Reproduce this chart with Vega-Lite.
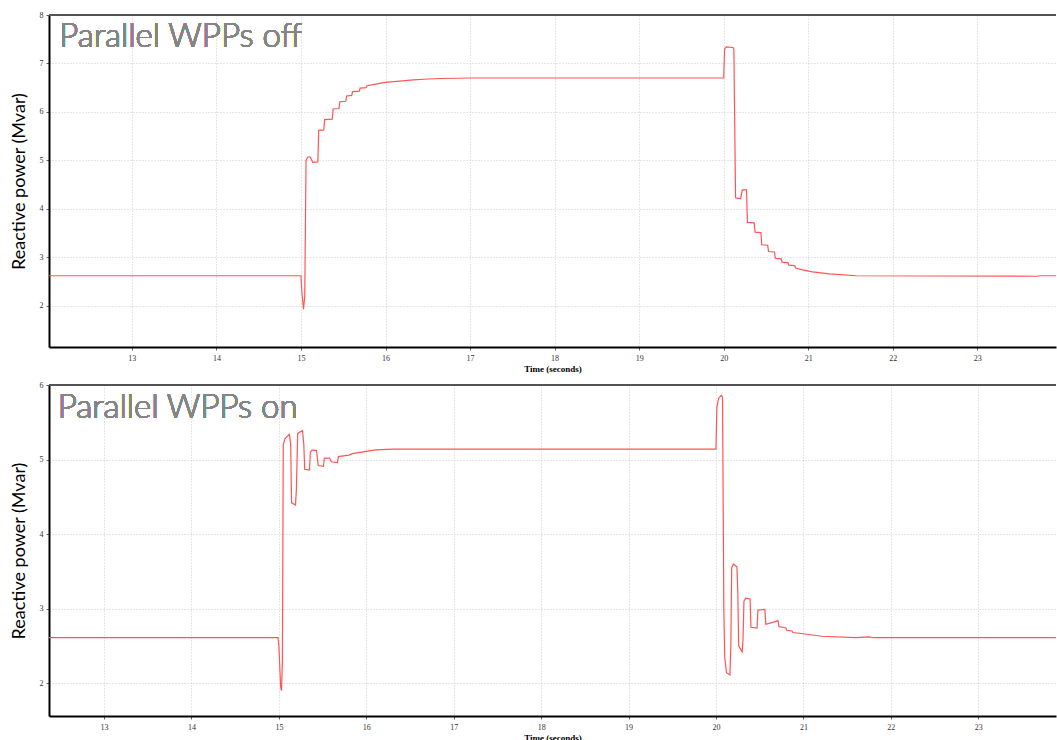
{
  "$schema": "https://vega.github.io/schema/vega-lite/v6.json",
  "padding": {"left": 10, "top": 11, "right": 0, "bottom": 0},
  "background": "white",
  "datasets": {
    "top": [
      {"t": 12.0, "q": 2.62}, {"t": 15.0, "q": 2.62}, {"t": 15.01, "q": 2.3}, {"t": 15.03, "q": 1.93}, {"t": 15.045, "q": 2.2},
      {"t": 15.06, "q": 5.0}, {"t": 15.08, "q": 5.07}, {"t": 15.11, "q": 5.07}, {"t": 15.14, "q": 4.96}, {"t": 15.2, "q": 4.97},
      {"t": 15.21, "q": 5.62}, {"t": 15.27, "q": 5.63}, {"t": 15.28, "q": 5.84}, {"t": 15.37, "q": 5.85}, {"t": 15.38, "q": 6.06},
      {"t": 15.45, "q": 6.07}, {"t": 15.46, "q": 6.21}, {"t": 15.53, "q": 6.22}, {"t": 15.54, "q": 6.33}, {"t": 15.6, "q": 6.34},
      {"t": 15.61, "q": 6.42}, {"t": 15.69, "q": 6.43}, {"t": 15.7, "q": 6.49}, {"t": 15.77, "q": 6.5}, {"t": 15.78, "q": 6.54},
      {"t": 15.9, "q": 6.58}, {"t": 16.0, "q": 6.61}, {"t": 16.2, "q": 6.64}, {"t": 16.33, "q": 6.66}, {"t": 16.5, "q": 6.68},
      {"t": 16.65, "q": 6.69}, {"t": 17.0, "q": 6.7}, {"t": 20.0, "q": 6.7}, {"t": 20.01, "q": 7.3}, {"t": 20.03, "q": 7.34},
      {"t": 20.11, "q": 7.33}, {"t": 20.12, "q": 7.3}, {"t": 20.14, "q": 4.23}, {"t": 20.2, "q": 4.21}, {"t": 20.22, "q": 4.39},
      {"t": 20.27, "q": 4.39}, {"t": 20.28, "q": 3.72}, {"t": 20.36, "q": 3.71}, {"t": 20.37, "q": 3.52}, {"t": 20.44, "q": 3.51},
      {"t": 20.45, "q": 3.26}, {"t": 20.52, "q": 3.25}, {"t": 20.53, "q": 3.12}, {"t": 20.6, "q": 3.11}, {"t": 20.61, "q": 2.98},
      {"t": 20.68, "q": 2.97}, {"t": 20.69, "q": 2.9}, {"t": 20.76, "q": 2.89}, {"t": 20.77, "q": 2.84}, {"t": 20.84, "q": 2.83},
      {"t": 20.85, "q": 2.78}, {"t": 20.93, "q": 2.74}, {"t": 21.05, "q": 2.7}, {"t": 21.25, "q": 2.66}, {"t": 21.57, "q": 2.62},
      {"t": 23.7, "q": 2.61}, {"t": 23.75, "q": 2.62}, {"t": 24.0, "q": 2.62}
    ],
    "bottom": [
      {"t": 12.3, "q": 2.61}, {"t": 14.99, "q": 2.61}, {"t": 15.0, "q": 2.5}, {"t": 15.02, "q": 1.95}, {"t": 15.03, "q": 1.9},
      {"t": 15.04, "q": 2.3}, {"t": 15.05, "q": 5.2}, {"t": 15.07, "q": 5.28}, {"t": 15.12, "q": 5.34}, {"t": 15.135, "q": 5.2},
      {"t": 15.145, "q": 4.42}, {"t": 15.19, "q": 4.39}, {"t": 15.2, "q": 4.6}, {"t": 15.215, "q": 5.35}, {"t": 15.27, "q": 5.39},
      {"t": 15.285, "q": 5.2}, {"t": 15.295, "q": 4.87}, {"t": 15.35, "q": 4.86}, {"t": 15.36, "q": 5.1}, {"t": 15.38, "q": 5.13},
      {"t": 15.43, "q": 5.12}, {"t": 15.45, "q": 4.92}, {"t": 15.51, "q": 4.91}, {"t": 15.52, "q": 5.02}, {"t": 15.58, "q": 5.02},
      {"t": 15.6, "q": 4.97}, {"t": 15.67, "q": 4.96}, {"t": 15.68, "q": 5.04}, {"t": 15.8, "q": 5.06}, {"t": 15.84, "q": 5.08},
      {"t": 16.0, "q": 5.11}, {"t": 16.11, "q": 5.13}, {"t": 16.3, "q": 5.14}, {"t": 20.0, "q": 5.14}, {"t": 20.01, "q": 5.7},
      {"t": 20.03, "q": 5.82}, {"t": 20.06, "q": 5.86}, {"t": 20.075, "q": 5.84}, {"t": 20.09, "q": 3.0}, {"t": 20.1, "q": 2.35},
      {"t": 20.12, "q": 2.14}, {"t": 20.16, "q": 2.11}, {"t": 20.17, "q": 2.5}, {"t": 20.18, "q": 3.55}, {"t": 20.2, "q": 3.6},
      {"t": 20.24, "q": 3.56}, {"t": 20.25, "q": 3.2}, {"t": 20.26, "q": 2.5}, {"t": 20.3, "q": 2.42}, {"t": 20.31, "q": 2.6},
      {"t": 20.32, "q": 3.1}, {"t": 20.34, "q": 3.14}, {"t": 20.39, "q": 3.13}, {"t": 20.4, "q": 2.75}, {"t": 20.47, "q": 2.74},
      {"t": 20.48, "q": 2.98}, {"t": 20.56, "q": 2.99}, {"t": 20.57, "q": 2.79}, {"t": 20.66, "q": 2.82}, {"t": 20.71, "q": 2.84},
      {"t": 20.72, "q": 2.76}, {"t": 20.8, "q": 2.74}, {"t": 20.81, "q": 2.71}, {"t": 20.87, "q": 2.7}, {"t": 20.88, "q": 2.68},
      {"t": 21.02, "q": 2.66}, {"t": 21.21, "q": 2.63}, {"t": 21.6, "q": 2.61}, {"t": 21.75, "q": 2.62}, {"t": 21.8, "q": 2.61},
      {"t": 24.0, "q": 2.61}
    ]
  },
  "vconcat": [
    {
      "width": 1007,
      "height": 332,
      "data": {"name": "top"},
      "layer": [
        {
          "mark": {"type": "line", "color": "#ff5555", "strokeWidth": 1.2, "clip": true},
          "encoding": {
            "x": {"field": "t", "type": "quantitative", "scale": {"domain": [12.02, 23.93], "nice": false, "zero": false},
                  "axis": {"title": "Time (seconds)", "values": [13, 14, 15, 16, 17, 18, 19, 20, 21, 22, 23], "format": "d"}},
            "y": {"field": "q", "type": "quantitative", "scale": {"domain": [1.15, 8], "nice": false, "zero": false},
                  "axis": {"title": "Reactive power (Mvar)", "values": [2, 3, 4, 5, 6, 7, 8], "format": "d"}}
          }
        },
        {
          "mark": {"type": "rule", "color": "#555555", "strokeWidth": 1.5},
          "encoding": {"y": {"datum": 8}}
        },
        {
          "mark": {"type": "text", "align": "left", "baseline": "alphabetic", "font": "Lato", "fontSize": 33, "fontWeight": 300, "fill": "#858585", "stroke": null},
          "encoding": {"x": {"datum": 12.14}, "y": {"datum": 7.33}, "text": {"value": "Parallel WPPs off"}}
        }
      ]
    },
    {
      "width": 1007,
      "height": 331,
      "data": {"name": "bottom"},
      "layer": [
        {
          "mark": {"type": "line", "color": "#ff5555", "strokeWidth": 1.2, "clip": true},
          "encoding": {
            "x": {"field": "t", "type": "quantitative", "scale": {"domain": [12.37, 23.89], "nice": false, "zero": false},
                  "axis": {"title": "Time (seconds)", "values": [13, 14, 15, 16, 17, 18, 19, 20, 21, 22, 23], "format": "d"}},
            "y": {"field": "q", "type": "quantitative", "scale": {"domain": [1.56, 6], "nice": false, "zero": false},
                  "axis": {"title": "Reactive power (Mvar)", "values": [2, 3, 4, 5, 6], "format": "d"}}
          }
        },
        {
          "mark": {"type": "rule", "color": "#555555", "strokeWidth": 1.5},
          "encoding": {"y": {"datum": 6}}
        },
        {
          "mark": {"type": "text", "align": "left", "baseline": "alphabetic", "font": "Lato", "fontSize": 33, "fontWeight": 300, "fill": "#858585", "stroke": null},
          "encoding": {"x": {"datum": 12.47}, "y": {"datum": 5.56}, "text": {"value": "Parallel WPPs on"}}
        }
      ]
    }
  ],
  "spacing": 38,
  "bounds": "flush",
  "config": {
    "view": {"stroke": null},
    "axis": {
      "domainColor": "#000000", "domainWidth": 2,
      "gridColor": "#cccccc", "gridDash": [1, 2], "gridWidth": 1,
      "tickColor": "#666666", "tickSize": 3,
      "labelFontSize": 8, "labelColor": "#333333", "labelFont": "Liberation Sans Narrow", "labelPadding": 3
    },
    "axisY": {
      "titleFont": "Lato", "titleFontSize": 18, "titleFontWeight": "normal", "titleColor": "#000000",
      "titleX": -25, "titleBaseline": "alphabetic"
    },
    "axisX": {
      "titleFont": "Liberation Sans Narrow", "titleFontSize": 9, "titleFontWeight": "bold", "titleColor": "#000000",
      "titlePadding": 2, "labelPadding": 4
    }
  }
}
